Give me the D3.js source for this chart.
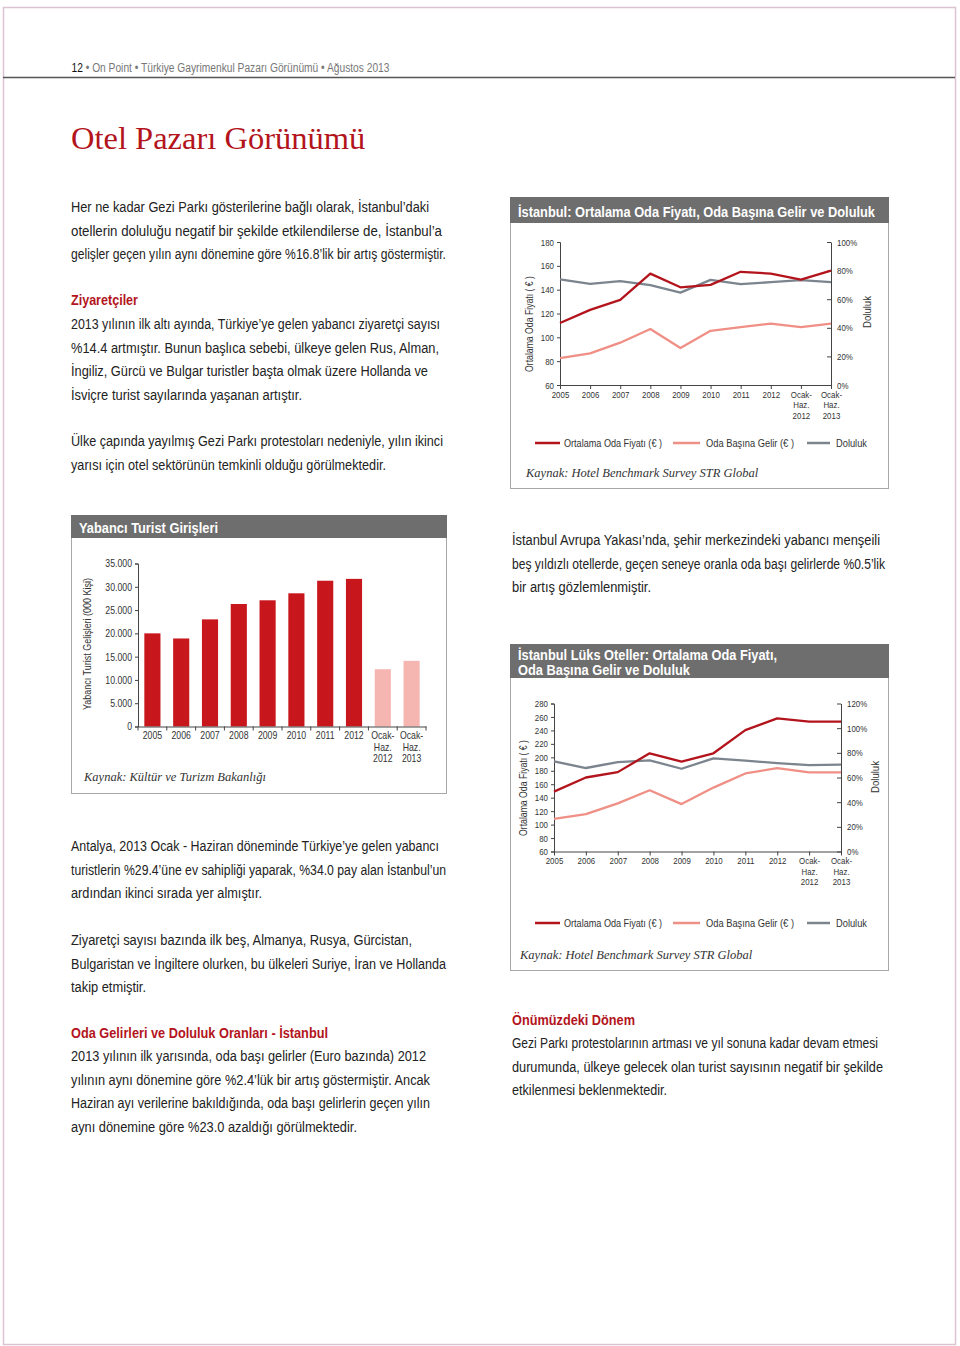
<!DOCTYPE html>
<html><head><meta charset="utf-8">
<script src="https://cdn.jsdelivr.net/npm/d3@7"></script>
<style>body{margin:0;background:#fff}svg{display:block}</style>
</head><body>
<svg id="page" width="960" height="1346"></svg>
<script>
// ---------- DATA ----------
const periods = ["2005","2006","2007","2008","2009","2010","2011","2012","Ocak-|Haz.|2012","Ocak-|Haz.|2013"];
// Yabancı Turist Girişleri (000 Kişi)
const arrivals = [20000, 18900, 23000, 26300, 27100, 28600, 31300, 31700, 12300, 14100];
const arrivalTicks = [0, 5000, 10000, 15000, 20000, 25000, 30000, 35000];
// İstanbul
const istAdr    = [112, 123, 131.5, 153.5, 142, 144, 155, 153.5, 148.5, 156];
const istRevpar = [82.5, 86.5, 95.5, 107, 91, 105.5, 108.5, 111.5, 108.5, 111.5];
const istOcc    = [73.8, 70.7, 72.6, 69.8, 64.6, 73.5, 70.5, 71.9, 73.3, 71.9];
const istLeftTicks  = [60, 80, 100, 120, 140, 160, 180];
const istRightTicks = [0, 20, 40, 60, 80, 100];
// İstanbul Lüks Oteller
const luxAdr    = [149, 170, 178, 206, 193.5, 206, 240.5, 258, 253, 253];
const luxRevpar = [108.5, 115.5, 131.5, 151, 130.5, 155, 176, 184, 177.5, 177.5];
const luxOcc    = [73.1, 67.7, 72.5, 73.9, 67.1, 75.5, 73.6, 71.7, 70.1, 70.4];
const luxLeftTicks  = [60, 80, 100, 120, 140, 160, 180, 200, 220, 240, 260, 280];
const luxRightTicks = [0, 20, 40, 60, 80, 100, 120];
const legendLabels = ["Ortalama Oda Fiyatı (€ )", "Oda Başına Gelir (€ )", "Doluluk"];

// ---------- STYLE ----------
const COND = "'Liberation Sans',Arial,sans-serif";
const SERIF = "'Liberation Serif','Times New Roman',serif";
const RED = "#b3141c", BARRED = "#c8161d", PINK = "#ef8f85", BARPINK = "#f5b6b2", GREY = "#7c848e";
const TXT = "#222";
const svg = d3.select("#page");
const trFmt = d3.formatLocale({decimal: ",", thousands: ".", grouping: [3], currency: ["", ""]}).format(",");

// page frame
svg.append("rect").attr("x", 3.5).attr("y", 7.5).attr("width", 952).attr("height", 1337)
  .attr("fill", "none").attr("stroke", "#dcc3d2").attr("stroke-width", 1.5);
svg.append("line").attr("x1", 3).attr("x2", 955).attr("y1", 77.5).attr("y2", 77.5)
  .attr("stroke", "#555").attr("stroke-width", 1.5);

// header
const hdr = svg.append("text").attr("class", "c").attr("data-w", 318).attr("x", 71.5).attr("y", 72)
  .attr("font-family", COND).attr("font-size", 12).attr("fill", "#777");
hdr.append("tspan").attr("fill", "#111").text("12");
hdr.append("tspan").text(" • On Point • Türkiye Gayrimenkul Pazarı Görünümü • Ağustos 2013");

svg.append("text").attr("x", 71).attr("y", 149).attr("font-family", SERIF).attr("font-size", 32.5)
  .attr("fill", RED).text("Otel Pazarı Görünümü");

// body text helper: [line, right end x]
function para(x, y0, lines, opts = {}) {
  lines.forEach(([l, end], i) =>
    svg.append("text").attr("class", "c").attr("data-w", end - x).attr("x", x).attr("y", y0 + i * 23.5)
      .attr("font-family", COND).attr("font-size", 14)
      .attr("font-weight", opts.bold ? "bold" : null)
      .attr("fill", opts.red ? RED : TXT).text(l));
}
para(71, 212, [["Her ne kadar Gezi Parkı gösterilerine bağlı olarak, İstanbul’daki", 429],
  ["otellerin doluluğu negatif bir şekilde etkilendilerse de, İstanbul’a", 442],
  ["gelişler geçen yılın aynı dönemine göre %16.8’lik bir artış göstermiştir.", 446]]);
para(71, 305, [["Ziyaretçiler", 138]], {red: true, bold: true});
para(71, 329, [["2013 yılının ilk altı ayında, Türkiye’ye gelen yabancı ziyaretçi sayısı", 440],
  ["%14.4 artmıştır. Bunun başlıca sebebi, ülkeye gelen Rus, Alman,", 439],
  ["İngiliz, Gürcü ve Bulgar turistler başta olmak üzere Hollanda ve", 428],
  ["İsviçre turist sayılarında yaşanan artıştır.", 302]]);
para(71, 446, [["Ülke çapında yayılmış Gezi Parkı protestoları nedeniyle, yılın ikinci", 443],
  ["yarısı için otel sektörünün temkinli olduğu görülmektedir.", 386]]);
para(71, 851, [["Antalya, 2013 Ocak - Haziran döneminde Türkiye’ye gelen yabancı", 439],
  ["turistlerin %29.4’üne ev sahipliği yaparak, %34.0 pay alan İstanbul’un", 446],
  ["ardından ikinci sırada yer almıştır.", 262]]);
para(71, 945, [["Ziyaretçi sayısı bazında ilk beş, Almanya, Rusya, Gürcistan,", 412],
  ["Bulgaristan ve İngiltere olurken, bu ülkeleri Suriye, İran ve Hollanda", 446],
  ["takip etmiştir.", 146]]);
para(71, 1038, [["Oda Gelirleri ve Doluluk Oranları - İstanbul", 328]], {red: true, bold: true});
para(71, 1061, [["2013 yılının ilk yarısında, oda başı gelirler (Euro bazında) 2012", 426],
  ["yılının aynı dönemine göre %2.4’lük bir artış göstermiştir. Ancak", 430],
  ["Haziran ayı verilerine bakıldığında, oda başı gelirlerin geçen yılın", 430],
  ["aynı dönemine göre %23.0 azaldığı görülmektedir.", 357]]);
para(512, 545, [["İstanbul Avrupa Yakası’nda, şehir merkezindeki yabancı menşeili", 880],
  ["beş yıldızlı otellerde, geçen seneye oranla oda başı gelirlerde %0.5’lik", 885],
  ["bir artış gözlemlenmiştir.", 651]]);
para(512, 1025, [["Önümüzdeki Dönem", 635]], {red: true, bold: true});
para(512, 1048, [["Gezi Parkı protestolarının artması ve yıl sonuna kadar devam etmesi", 878],
  ["durumunda, ülkeye gelecek olan turist sayısının negatif bir şekilde", 883],
  ["etkilenmesi beklenmektedir.", 667]]);

// box helper; titleLines: [text, width]
function box(x, y, w, h, barH, titleLines, base) {
  svg.append("rect").attr("x", x + 0.5).attr("y", y + 0.5).attr("width", w).attr("height", h)
    .attr("fill", "#fff").attr("stroke", "#a8a8a8").attr("stroke-width", 1);
  svg.append("rect").attr("x", x).attr("y", y).attr("width", w + 1).attr("height", barH).attr("fill", "#6e6e6e");
  titleLines.forEach(([t, tw], i) => {
    svg.append("text").attr("class", "c").attr("data-w", tw).attr("x", x + 8).attr("y", y + base + i * 15.5)
      .attr("font-family", COND).attr("font-size", 15).attr("font-weight", "bold")
      .attr("fill", "#fff").text(t);
  });
}

function multiLine(sel) {
  sel.each(function () {
    const t = d3.select(this), parts = t.text().split("|");
    if (parts.length < 2) return;
    t.text(null);
    parts.forEach((p, i) => t.append("tspan").attr("x", 0).attr("dy", i === 0 ? "0.71em" : "1.1em").text(p));
  });
}

function styleAxis(g, size) {
  g.attr("font-family", COND).attr("font-size", size);
  g.selectAll("path,line").attr("stroke", "#444");
  g.selectAll("text").attr("fill", "#333");
}

// ---------- BAR CHART ----------
box(71, 515, 375, 278, 23, [["Yabancı Turist Girişleri", 139]], 18);
{
  const x = d3.scaleBand().domain(periods).range([138, 426]).paddingInner(0.44).paddingOuter(0.22);
  const y = d3.scaleLinear().domain([0, 35000]).range([726.5, 563.5]);
  svg.append("g").selectAll("rect").data(arrivals).join("rect")
    .attr("x", (d, i) => x(periods[i])).attr("width", x.bandwidth())
    .attr("y", d => y(d)).attr("height", d => y(0) - y(d))
    .attr("fill", (d, i) => i < 8 ? BARRED : BARPINK);
  const ya = svg.append("g").attr("transform", "translate(138,0)")
    .call(d3.axisLeft(y).tickValues(arrivalTicks).tickFormat(trFmt).tickSize(3).tickPadding(3));
  styleAxis(ya, 10.5);
  const xa = svg.append("g").attr("transform", `translate(0,${y(0)})`)
    .call(d3.axisBottom(x).tickSize(0).tickPadding(5));
  styleAxis(xa, 10.5);
  xa.selectAll(".tick text").call(multiLine);
  const [r0, r1] = x.range();
  xa.selectAll(".sep").data(d3.range(periods.length + 1)).join("line").attr("class", "sep")
    .attr("x1", i => r0 + i * (r1 - r0) / periods.length).attr("x2", i => r0 + i * (r1 - r0) / periods.length)
    .attr("y1", 0).attr("y2", 4).attr("stroke", "#444");
  svg.append("text").attr("class", "c").attr("data-w", 132).attr("transform", "translate(91,644) rotate(-90)").attr("text-anchor", "middle")
    .attr("font-family", COND).attr("font-size", 10.5).attr("fill", "#333")
    .text("Yabancı Turist Gelişleri (000 Kişi)");
  svg.append("text").attr("x", 84).attr("y", 781).attr("font-family", SERIF).attr("font-style", "italic")
    .attr("font-size", 12.5).attr("fill", "#333").text("Kaynak: Kültür ve Turizm Bakanlığı");
}

// ---------- LINE CHARTS ----------
function lineChart(c) {
  const x = d3.scalePoint().domain(periods).range([c.x0, c.x1]);
  const yl = d3.scaleLinear().domain(c.leftDomain).range([c.yBot, c.yTop]);
  const yr = d3.scaleLinear().domain(c.rightDomain).range([c.yBot, c.yTop]);
  const la = svg.append("g").attr("transform", `translate(${c.x0},0)`)
    .call(d3.axisLeft(yl).tickValues(c.leftTicks).tickSize(3).tickPadding(3));
  styleAxis(la, 9.5);
  const ra = svg.append("g").attr("transform", `translate(${c.x1},0)`)
    .call(d3.axisRight(yr).tickValues(c.rightTicks).tickFormat(d => d + "%").tickSizeInner(-4).tickSizeOuter(0).tickPadding(c.rPad));
  styleAxis(ra, 9.5);
  const xa = svg.append("g").attr("transform", `translate(0,${c.yBot})`)
    .call(d3.axisBottom(x).tickSize(4).tickSizeOuter(0).tickPadding(2));
  styleAxis(xa, 9.5);
  xa.selectAll(".tick text").call(multiLine);
  const line = (scale) => d3.line().x((d, i) => x(periods[i])).y(d => scale(d));
  const ser = [[c.occ, yr, GREY], [c.revpar, yl, PINK], [c.adr, yl, RED]];
  ser.forEach(([data, sc, col]) => svg.append("path").datum(data).attr("d", line(sc)(data))
    .attr("fill", "none").attr("stroke", col).attr("stroke-width", 2.3).attr("stroke-linejoin", "round"));
  svg.append("text").attr("class", "c").attr("data-w", 96).attr("transform", `translate(${c.ltx},${c.lty}) rotate(-90)`).attr("text-anchor", "middle")
    .attr("font-family", COND).attr("font-size", 10.5).attr("fill", "#333").text("Ortalama Oda Fiyatı ( € )");
  svg.append("text").attr("class", "c").attr("data-w", 32).attr("transform", `translate(${c.rtx},${c.rty}) rotate(-90)`).attr("text-anchor", "middle")
    .attr("font-family", COND).attr("font-size", 10.5).attr("fill", "#333").text("Doluluk");
  // legend
  const lg = [[535, 560, 564, 98, RED], [673, 700, 706, 88, PINK], [807, 830, 836, 31, GREY]];
  lg.forEach(([a, b, t, tw, col], i) => {
    svg.append("line").attr("x1", a).attr("x2", b).attr("y1", c.legY).attr("y2", c.legY)
      .attr("stroke", col).attr("stroke-width", 2.5);
    svg.append("text").attr("class", "c").attr("data-w", tw).attr("x", t).attr("y", c.legY + 3.5).attr("font-family", COND).attr("font-size", 10.5)
      .attr("fill", "#333").text(legendLabels[i]);
  });
  svg.append("text").attr("x", c.srcX).attr("y", c.srcY).attr("font-family", SERIF).attr("font-style", "italic")
    .attr("font-size", 12.5).attr("fill", "#333").text("Kaynak: Hotel Benchmark Survey STR Global");
}

box(510, 197, 378, 291, 26, [["İstanbul: Ortalama Oda Fiyatı, Oda Başına Gelir ve Doluluk", 357]], 20);
lineChart({x0: 560, x1: 831, yTop: 242, yBot: 385, leftDomain: [60, 180], rightDomain: [0, 100],
  leftTicks: istLeftTicks, rightTicks: istRightTicks, rPad: 6,
  adr: istAdr, revpar: istRevpar, occ: istOcc,
  ltx: 533, lty: 324, rtx: 871, rty: 312, legY: 443, srcX: 526, srcY: 477});

box(510, 644, 378, 326, 34, [["İstanbul Lüks Oteller: Ortalama Oda Fiyatı,", 259], ["Oda Başına Gelir ve Doluluk", 172]], 15.5);
lineChart({x0: 554, x1: 841, yTop: 703.5, yBot: 851.5, leftDomain: [60, 280], rightDomain: [0, 120],
  leftTicks: luxLeftTicks, rightTicks: luxRightTicks, rPad: 6,
  adr: luxAdr, revpar: luxRevpar, occ: luxOcc,
  ltx: 527, lty: 788, rtx: 879, rty: 777, legY: 923, srcX: 520, srcY: 959});

// ---------- condense sans text (source uses a condensed face) ----------
const K = 0.83;
function squeeze(el) {
  const target = el.getAttribute("data-w");
  const w = target ? +target : el.getComputedTextLength() * K;
  el.setAttribute("textLength", w.toFixed(2));
  el.setAttribute("lengthAdjust", "spacingAndGlyphs");
}
svg.selectAll("text.c, .tick text").each(function () {
  const spans = this.querySelectorAll("tspan[x]");
  if (spans.length) spans.forEach(squeeze); else squeeze(this);
});
</script>
</body></html>
